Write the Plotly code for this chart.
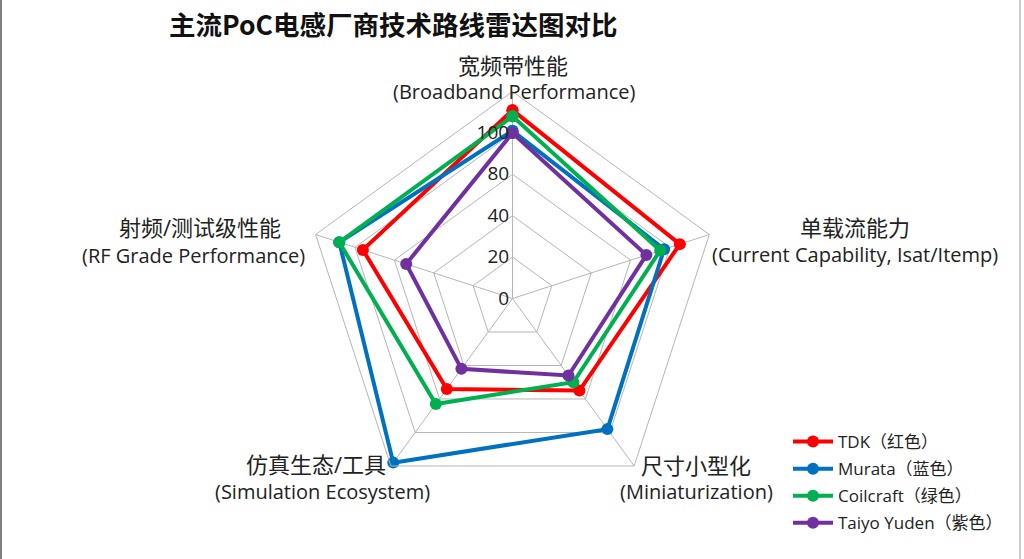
import plotly.graph_objects as go

categories = [
    "宽频带性能",
    "单载流能力",
    "尺寸小型化",
    "仿真生态/工具",
    "射频/测试级性能",
]
categories_en = [
    "(Broadband Performance)",
    "(Current Capability, Isat/Itemp)",
    "(Miniaturization)",
    "(Simulation Ecosystem)",
    "(RF Grade Performance)",
]
series_names = ["TDK（红色）", "Murata（蓝色）", "Coilcraft（绿色）", "Taiyo Yuden（紫色）"]
tdk = [91, 85, 55, 54, 76]
murata = [81, 77, 78, 98, 88]
coilcraft = [88, 75, 50, 63, 88]
taiyo = [80, 68, 46, 42, 54]
series_values = [tdk, murata, coilcraft, taiyo]
colors = ["#FF0000", "#0070C0", "#00B050", "#7030A0"]

tick_vals = [0, 20, 40, 60, 80]
tick_text = ["0", "20", "40", "80", "100"]

FONT = "Open Sans, Noto Sans CJK SC, sans-serif"

fig = go.Figure()
for name, vals, col in zip(series_names, series_values, colors):
    fig.add_trace(go.Scatterpolar(
        r=vals + vals[:1],
        theta=categories + categories[:1],
        mode="lines+markers",
        name=name,
        legendgroup=name,
        line=dict(color=col, width=4),
        marker=dict(color=col, size=12),
    ))

W, H = 1024, 559
cx, cy, R = 512.5, 298.5, 207

# category label placement (pixel centres of the Chinese / English lines)
label_pos = [
    ((513, 65), (514, 91)),
    ((855, 227), (855, 254)),
    ((696, 465), (696, 491)),
    ((316, 464), (322, 491)),
    ((200, 227), (193, 255)),
]
annotations = []
for zh, en, (pz, pe) in zip(categories, categories_en, label_pos):
    annotations.append(dict(text=zh, x=pz[0] / W, y=1 - pz[1] / H, xref="paper", yref="paper",
                            xanchor="center", yanchor="middle", showarrow=False,
                            font=dict(size=22, color="#222")))
    annotations.append(dict(text=en, x=pe[0] / W, y=1 - pe[1] / H, xref="paper", yref="paper",
                            xanchor="center", yanchor="middle", showarrow=False,
                            font=dict(size=20, color="#222")))

fig.update_layout(
    width=W, height=H,
    margin=dict(l=0, r=0, t=0, b=0),
    paper_bgcolor="white",
    font=dict(family=FONT, size=19, color="#222"),
    title=dict(
        text="<b>主流PoC电感厂商技术路线雷达图对比</b>",
        x=169 / W, xanchor="left", y=1 - 26 / H, yanchor="middle",
        font=dict(family="Noto Sans CJK SC, sans-serif", size=26.5, color="#111"),
    ),
    polar=dict(
        domain=dict(x=[(cx - R) / W, (cx + R) / W], y=[(H - cy - R) / H, (H - cy + R) / H]),
        gridshape="linear",
        bgcolor="white",
        radialaxis=dict(
            range=[0, 100], tickvals=tick_vals, ticktext=tick_text,
            angle=90, tickangle=90, side="counterclockwise", showline=False,
            gridcolor="#b5b5b5", gridwidth=1, ticks="",
            tickfont=dict(size=19, color="#222"),
        ),
        angularaxis=dict(
            rotation=90, direction="clockwise", showticklabels=False,
            linecolor="#b5b5b5", linewidth=1, gridcolor="#b5b5b5", gridwidth=1,
            ticks="",
        ),
    ),
    legend=dict(
        x=788 / W, xanchor="left", y=1 - 424 / H, yanchor="top",
        font=dict(size=17, color="#222"), itemwidth=40, tracegroupgap=2,
        bgcolor="rgba(0,0,0,0)",
    ),
    annotations=annotations,
    shapes=[
        dict(type="line", xref="paper", yref="paper", x0=1 / W, x1=1 / W, y0=0, y1=1,
             line=dict(color="#555", width=1.5)),
        dict(type="line", xref="paper", yref="paper", x0=1020 / W, x1=1020 / W, y0=0, y1=1,
             line=dict(color="#999", width=1)),
    ],
)

fig.write_html("out.html", config={"displayModeBar": False},
               post_script="document.body.style.margin='0px';")
